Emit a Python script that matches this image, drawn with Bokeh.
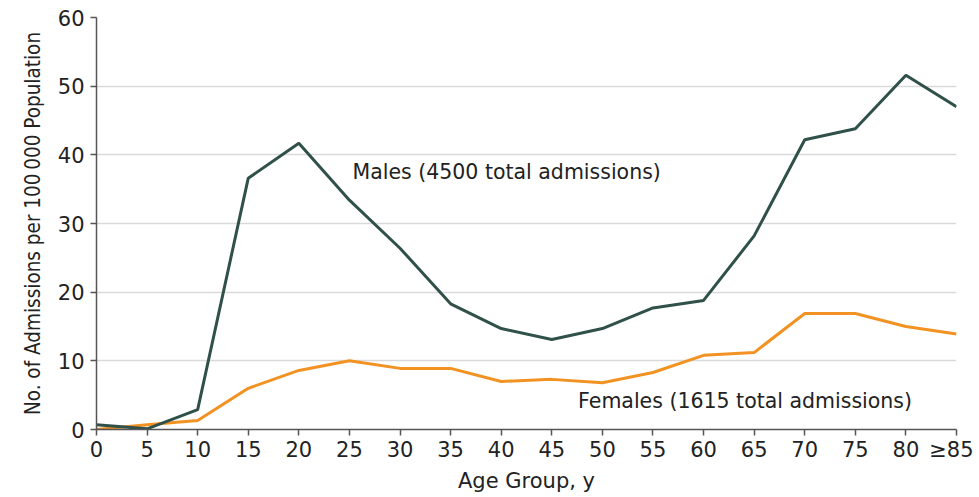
from bokeh.plotting import figure
from bokeh.models import Label, FixedTicker, ColumnDataSource
from bokeh.embed import file_html
from bokeh.resources import INLINE

ages = [0, 5, 10, 15, 20, 25, 30, 35, 40, 45, 50, 55, 60, 65, 70, 75, 80, 85]
age_labels = ["0", "5", "10", "15", "20", "25", "30", "35", "40", "45", "50",
              "55", "60", "65", "70", "75", "80", "≥85"]
males = [0.7, 0.1, 2.9, 36.6, 41.7, 33.4, 26.4, 18.3, 14.7, 13.1, 14.7, 17.7,
         18.8, 28.2, 42.2, 43.8, 51.6, 47.0]
females = [0.0, 0.7, 1.3, 6.0, 8.6, 10.0, 8.9, 8.9, 7.0, 7.3, 6.8, 8.3,
           10.8, 11.2, 16.9, 16.9, 15.0, 13.9]
y_ticks = [0, 10, 20, 30, 40, 50, 60]

FONT = "DejaVu Sans"
W, H = 973, 495
p = figure(width=W, height=H, output_backend="svg", toolbar_location=None,
           x_range=(0, 85), y_range=(0, 60),
           min_border_left=96, min_border_right=17, min_border_top=17, min_border_bottom=65)
p.outline_line_color = None
p.background_fill_color = "white"

src = ColumnDataSource(dict(x=ages, m=males, f=females))
p.line("x", "f", source=src, line_color="#f29222", line_width=3)
p.line("x", "m", source=src, line_color="#30504a", line_width=3)

p.xgrid.grid_line_color = None
p.ygrid.grid_line_color = "#d9d9d9"
p.ygrid.grid_line_width = 1.5
p.ygrid.ticker = FixedTicker(ticks=y_ticks)

p.yaxis.ticker = FixedTicker(ticks=y_ticks)
p.xaxis.ticker = FixedTicker(ticks=ages)
p.xaxis.major_label_overrides = {a: l for a, l in zip(ages, age_labels)}

for ax in (p.xaxis[0], p.yaxis[0]):
    ax.axis_line_color = "#555555"
    ax.axis_line_width = 1.5
    ax.major_tick_line_color = "#555555"
    ax.major_tick_line_width = 1.5
    ax.major_tick_out = 6
    ax.major_tick_in = 0
    ax.minor_tick_line_color = None
    ax.major_label_text_font = FONT
    ax.major_label_text_font_size = "21px"
    ax.major_label_text_color = "#222222"
    ax.axis_label_text_font = FONT
    ax.axis_label_text_font_style = "normal"
    ax.axis_label_text_color = "#222222"

p.xaxis.axis_label = "Age Group, y"
p.xaxis.axis_label_text_font_size = "21px"
p.xaxis.axis_label_standoff = 4
p.xaxis.major_label_standoff = 2
p.yaxis.axis_label = "No. of Admissions per 100\u2009000 Population"
p.yaxis.axis_label_text_font = "DejaVu Sans Condensed"
p.yaxis.axis_label_text_font_size = "20.5px"
p.yaxis.axis_label_standoff = 10
p.yaxis.major_label_standoff = 6

p.add_layout(Label(x=25.3, y=37.5, text="Males (4500 total admissions)",
                   text_font=FONT, text_font_size="20.5px", text_color="#222222",
                   text_baseline="middle"))
p.add_layout(Label(x=47.6, y=4.2, text="Females (1615 total admissions)",
                   text_font=FONT, text_font_size="20.5px", text_color="#222222",
                   text_baseline="middle"))

open("out.html", "w").write(file_html(p, INLINE))
